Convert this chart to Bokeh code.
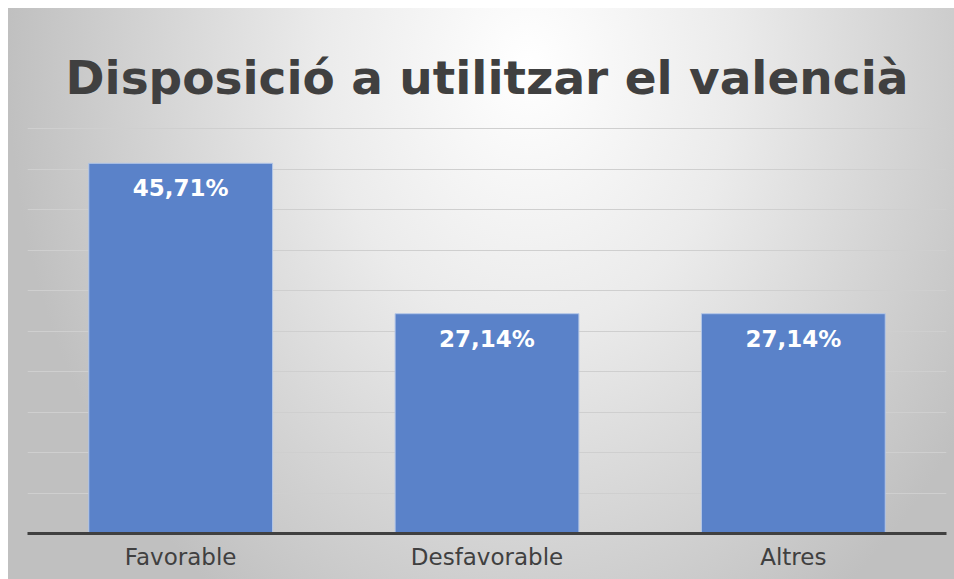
from bokeh.plotting import figure
from bokeh.models import ColumnDataSource, LabelSet, Range1d, FactorRange
from bokeh.embed import file_html
from bokeh.resources import INLINE
from bokeh.core.properties import value

categories = ["Favorable", "Desfavorable", "Altres"]
percentages = [45.71, 27.14, 27.14]
label_texts = ["45,71%", "27,14%", "27,14%"]
grid_ticks = [0, 5, 10, 15, 20, 25, 30, 35, 40, 45, 50]
title_text = "Disposició a utilitzar el valencià"

source = ColumnDataSource(dict(cat=categories, val=percentages, lab=label_texts))

p = figure(width=946, height=571, x_range=FactorRange(*categories), y_range=Range1d(0, 50.5),
           output_backend="svg", toolbar_location=None,
           min_border_left=19, min_border_right=8, min_border_top=116, min_border_bottom=46)

p.styles = {"margin-left": "8px", "margin-top": "8px",
            "background": "radial-gradient(ellipse 55% 115% at 55% 10%, #ffffff 0%, #ebebeb 40%, #c0c0c0 100%)"}
p.background_fill_color = None
p.border_fill_color = None
p.outline_line_color = None

p.title.text = title_text
p.title.align = "center"
p.title.text_font = "DejaVu Sans"
p.title.text_font_style = "bold"
p.title.text_font_size = "47px"
p.title.text_color = "#404040"
p.title.standoff = 39

p.vbar(x="cat", top="val", width=0.6, source=source, fill_color="#5a82c9",
       line_color="#b4c7e7", line_width=1)

labels = LabelSet(x="cat", y="val", text="lab", source=source, y_offset=-12,
                  text_align="center", text_baseline="top", text_color="white",
                  text_font=value("DejaVu Sans"), text_font_style="bold", text_font_size="23px")
p.add_layout(labels)

p.yaxis.visible = False
p.yaxis.ticker = grid_ticks
p.xgrid.grid_line_color = None
p.ygrid.ticker = grid_ticks
p.ygrid.grid_line_color = "#cfcfcf"
p.ygrid.grid_line_width = 1

p.xaxis.axis_line_color = "#404040"
p.xaxis.axis_line_width = 3
p.xaxis.major_tick_line_color = None
p.xaxis.minor_tick_line_color = None
p.xaxis.major_label_text_font = "DejaVu Sans"
p.xaxis.major_label_text_font_size = "23px"
p.xaxis.major_label_text_color = "#404040"
p.xaxis.major_label_standoff = 4
p.x_range.range_padding = 0
p.x_range.group_padding = 0

open("out.html", "w").write(file_html(p, INLINE))
